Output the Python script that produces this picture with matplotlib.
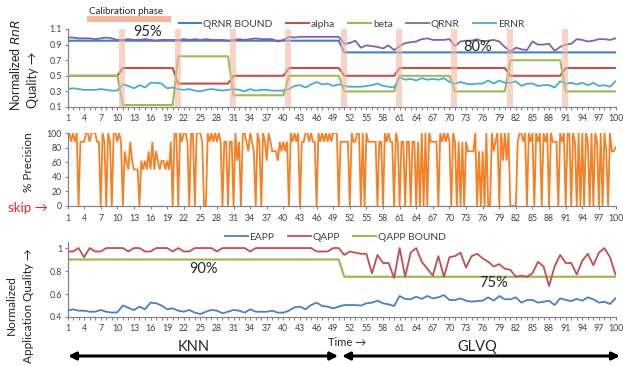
import numpy as np
import matplotlib
matplotlib.use("Agg")
import matplotlib.pyplot as plt
from matplotlib.patches import Rectangle

plt.rcParams['font.family'] = ['Lato', 'DejaVu Sans']

# ---------------- data ----------------
cats = list(range(1, 101))
xtick_labels = list(range(1, 101, 3))

qrnr_bound = [0.95] * 50 + [0.80] * 50
alpha = [0.5] * 10 + [0.6] * 10 + [0.4] * 10 + [0.5] * 10 + [0.6] * 10 + \
        [0.5] * 10 + [0.6] * 10 + [0.6] * 10 + [0.5] * 10 + [0.6] * 10
beta = [0.5] * 10 + [0.125] * 10 + [0.75] * 10 + [0.25] * 10 + [0.5] * 10 + \
       [0.3] * 10 + [0.5] * 10 + [0.3] * 10 + [0.7] * 10 + [0.3] * 10
qrnr = [0.99, 0.99, 0.98, 0.98, 0.98, 0.97, 0.98, 0.99, 0.98, 0.96,
        0.96, 0.97, 0.96, 0.96, 0.97, 0.96, 0.95, 0.96, 0.96, 0.96,
        0.96, 0.97, 0.96, 0.97, 0.96, 0.97, 0.96, 0.96, 0.96, 0.95,
        0.96, 0.97, 0.96, 0.97, 0.98, 0.97, 0.97, 0.97, 0.94, 0.96,
        1.00, 0.99, 1.00, 1.00, 1.00, 1.00, 1.00, 1.00, 1.00, 1.00,
        0.91, 0.92, 0.95, 0.86, 0.89, 0.88, 0.87, 0.85, 0.89, 0.83,
        0.88, 0.92, 0.93, 0.94, 0.97, 0.98, 0.96, 0.96, 0.96, 0.97,
        0.88, 0.94, 0.95, 0.95, 0.97, 0.94, 0.95, 0.96, 0.94, 0.87,
        0.81, 0.86, 0.84, 0.83, 0.94, 0.90, 0.90, 0.91, 0.82, 0.87,
        0.90, 0.91, 0.97, 0.96, 0.94, 0.95, 0.97, 0.97, 0.96, 0.98]
ernr = [0.33, 0.34, 0.33, 0.32, 0.32, 0.32, 0.33, 0.32, 0.31, 0.31,
        0.39, 0.37, 0.34, 0.38, 0.35, 0.41, 0.41, 0.40, 0.34, 0.35,
        0.33, 0.32, 0.33, 0.31, 0.30, 0.32, 0.33, 0.32, 0.31, 0.32,
        0.33, 0.32, 0.30, 0.33, 0.31, 0.32, 0.32, 0.31, 0.31, 0.31,
        0.33, 0.37, 0.38, 0.35, 0.39, 0.42, 0.39, 0.40, 0.37, 0.39,
        0.37, 0.36, 0.36, 0.36, 0.37, 0.38, 0.40, 0.37, 0.36, 0.35,
        0.48, 0.45, 0.46, 0.44, 0.47, 0.45, 0.46, 0.45, 0.47, 0.42,
        0.40, 0.42, 0.40, 0.39, 0.40, 0.40, 0.44, 0.40, 0.44, 0.41,
        0.41, 0.43, 0.37, 0.40, 0.40, 0.37, 0.38, 0.38, 0.35, 0.43,
        0.40, 0.41, 0.39, 0.41, 0.38, 0.41, 0.37, 0.38, 0.36, 0.43]

# precision: three samples per time step
precision = [
    100, 100, 88, 100, 88, 100, 0, 88, 88, 88, 100, 100, 88, 100, 100, 100, 88, 88, 0, 100, 88, 0, 100, 88, 0, 100, 100, 88, 100, 88,
    0, 75, 60, 50, 88, 62, 50, 50, 50, 0, 62, 50, 62, 50, 75, 50, 88, 50, 75, 62, 50, 62, 62, 50, 62, 50, 88, 0, 100, 100,
    0, 100, 88, 100, 100, 88, 0, 100, 100, 0, 100, 100, 100, 88, 0, 0, 100, 88, 100, 88, 100, 88, 100, 88, 0, 88, 88, 0, 88, 88,
    0, 100, 62, 88, 0, 100, 100, 88, 75, 100, 88, 75, 0, 100, 88, 0, 100, 88, 62, 100, 88, 75, 75, 75, 62, 88, 75, 88, 75, 88,
    0, 100, 88, 100, 88, 100, 0, 88, 88, 100, 100, 88, 100, 88, 88, 0, 100, 88, 100, 88, 100, 88, 100, 88, 100, 100, 100, 0, 88, 88,
    88, 88, 88, 0, 100, 88, 88, 100, 100, 0, 100, 0, 100, 88, 88, 88, 88, 88, 0, 88, 88, 0, 100, 88, 100, 88, 88, 0, 100, 88,
    0, 88, 88, 0, 88, 88, 0, 88, 88, 0, 88, 0, 100, 0, 100, 0, 100, 88, 88, 88, 88, 0, 100, 88, 100, 88, 100, 88, 0, 100,
    88, 0, 88, 0, 88, 0, 88, 75, 75, 75, 75, 100, 0, 75, 0, 75, 0, 100, 0, 0, 100, 75, 88, 100, 0, 100, 62, 100, 62, 100,
    0, 0, 0, 0, 88, 100, 100, 88, 100, 0, 100, 88, 100, 0, 100, 88, 100, 0, 100, 88, 100, 0, 100, 88, 88, 88, 0, 100, 88, 100,
    0, 100, 100, 0, 100, 88, 0, 100, 0, 100, 0, 100, 88, 0, 100, 0, 100, 88, 0, 100, 0, 100, 75, 0, 100, 75, 75,
    80]

eapp = [0.455, 0.467, 0.455, 0.455, 0.446, 0.446, 0.461, 0.446, 0.438, 0.441,
        0.500, 0.480, 0.460, 0.490, 0.467, 0.525, 0.520, 0.500, 0.467, 0.475,
        0.455, 0.446, 0.461, 0.438, 0.426, 0.446, 0.461, 0.455, 0.432, 0.446,
        0.461, 0.455, 0.438, 0.467, 0.446, 0.446, 0.446, 0.455, 0.438, 0.438,
        0.455, 0.484, 0.490, 0.467, 0.504, 0.525, 0.496, 0.490, 0.475, 0.490,
        0.504, 0.504, 0.504, 0.499, 0.519, 0.525, 0.542, 0.519, 0.510, 0.496,
        0.583, 0.557, 0.554, 0.577, 0.557, 0.583, 0.562, 0.571, 0.591, 0.548,
        0.548, 0.562, 0.542, 0.533, 0.539, 0.542, 0.571, 0.542, 0.583, 0.554,
        0.554, 0.571, 0.525, 0.548, 0.548, 0.525, 0.533, 0.542, 0.504, 0.562,
        0.548, 0.539, 0.557, 0.542, 0.571, 0.554, 0.525, 0.533, 0.513, 0.562]
qapp = [0.97, 0.97, 1.00, 0.92, 1.00, 0.97, 0.97, 1.00, 1.00, 1.00,
        1.00, 0.97, 1.00, 1.00, 0.97, 0.97, 1.00, 1.00, 1.00, 0.97,
        1.00, 0.97, 0.97, 1.00, 1.00, 1.00, 1.00, 0.97, 1.00, 1.00,
        1.00, 1.00, 1.00, 0.97, 1.00, 1.00, 1.00, 1.00, 1.00, 1.00,
        1.00, 1.00, 1.00, 1.00, 1.00, 0.97, 0.97, 0.97, 1.00, 1.00,
        0.94, 0.97, 0.96, 0.95, 0.95, 0.78, 0.94, 0.87, 0.87, 0.74,
        1.00, 0.75, 0.96, 1.00, 0.88, 0.82, 0.76, 0.93, 0.75, 0.92,
        0.93, 0.96, 0.83, 0.93, 0.95, 0.91, 0.88, 0.84, 0.86, 0.82,
        0.81, 0.75, 0.76, 0.75, 0.78, 0.88, 0.84, 0.67, 0.84, 0.94,
        0.87, 0.87, 0.77, 0.89, 0.95, 0.85, 0.96, 1.00, 0.92, 0.77]
qapp_bound = [0.90] * 50 + [0.75] * 50

calib_steps = [10, 20, 30, 40, 50, 60, 70, 80, 90]

# ---------------- style ----------------
C_BOUND = '#3F7FCF'
C_ALPHA = '#C0504D'
C_BETA = '#9BBB59'
C_QRNR = '#8064A2'
C_ERNR = '#4BACC6'
C_EAPP = '#4A7EC8'
C_ORANGE = '#F58025'
C_BAR = '#F4B8A0'
AX_COL = '#868686'
TXT = '#404040'
TICK_FS = 6.3

W, H = 623, 366
fig = plt.figure(figsize=(W / 100, H / 100), dpi=100)


def fx(px):
    return px / W


def fy(py):
    return 1 - py / H


left = fx(67.5)
width = fx(615.5) - fx(67.5)


def style_axes(ax, minor=True):
    for s in ['top', 'right']:
        ax.spines[s].set_visible(False)
    for s in ['left', 'bottom']:
        ax.spines[s].set_color(AX_COL)
        ax.spines[s].set_linewidth(0.9)
    ax.set_xlim(1, 100)
    ax.set_xticks(xtick_labels)
    ax.set_xticklabels([str(v) for v in xtick_labels])
    if minor:
        ax.set_xticks(cats, minor=True)
    ax.tick_params(axis='both', which='both', colors=AX_COL, labelcolor=TXT,
                   labelsize=TICK_FS, length=2.5, width=0.8, direction='out')
    ax.tick_params(axis='x', pad=2.5)
    ax.tick_params(axis='y', pad=1.5)


# ---------------- top panel ----------------
ax1 = fig.add_axes([left, fy(107), width, fy(29) - fy(107)])
ax1.plot(cats, qrnr_bound, color=C_BOUND, lw=1.5, label='QRNR BOUND', zorder=3)
ax1.plot(cats, alpha, color=C_ALPHA, lw=1.5, label='alpha', zorder=3)
ax1.plot(cats, beta, color=C_BETA, lw=1.5, label='beta', zorder=3)
ax1.plot(cats, qrnr, color=C_QRNR, lw=1.3, label='QRNR', zorder=3)
ax1.plot(cats, ernr, color=C_ERNR, lw=1.3, label='ERNR', zorder=3)
for c in calib_steps:
    ax1.add_patch(Rectangle((c + 0.35, 0.1), 1.1, 1.0, facecolor=C_BAR,
                            edgecolor='none', alpha=0.6, zorder=5))
ax1.set_ylim(0.1, 1.1)
ax1.set_yticks([0.1, 0.3, 0.5, 0.7, 0.9, 1.1])
ax1.set_yticklabels(['0.1', '0.3', '0.5', '0.7', '0.9', '1.1'])
style_axes(ax1)
ax1.text(15.5, 1.06, '95%', fontsize=10.5, color='#262626', ha='center', va='center', zorder=6)
ax1.text(75, 0.87, '80%', fontsize=10.5, color='#262626', ha='center', va='center', zorder=6)
# calibration phase marker
ax1.add_patch(Rectangle((4.5, 1.19), 15.2, 0.075, facecolor=C_BAR, edgecolor='none',
                        clip_on=False, zorder=2))
ax1.text(11.6, 1.33, 'Calibration phase', fontsize=7, color='#262626',
         ha='center', va='center', clip_on=False)
fig.legend(handles=ax1.get_lines(), loc='center', ncol=5,
           bbox_to_anchor=(fx(351.5), fy(24)), frameon=False,
           fontsize=7.4, handlelength=2.2, handletextpad=0.2,
           columnspacing=1.3, labelcolor=TXT)

fig.text(fx(15), fy(111), 'Normalized $\\it{RnR}$', rotation=90, fontsize=9,
         ha='center', va='bottom', color='#262626')
fig.text(fx(33), fy(108), 'Quality \u2192', rotation=90, fontsize=9,
         ha='center', va='bottom', color='#262626')

# ---------------- middle panel ----------------
ax2 = fig.add_axes([left, fy(206), width, fy(133) - fy(206)])
px = 1 + np.arange(len(precision)) / 3.0
ax2.plot(px, precision, color=C_ORANGE, lw=1.3, solid_joinstyle='miter')
ax2.set_ylim(0, 100)
ax2.set_yticks([0, 20, 40, 60, 80, 100])
style_axes(ax2, minor=False)
ax2.tick_params(axis='x', pad=3.5)
fig.text(fx(28), fy(162), '% Precision', rotation=90, fontsize=8.5,
         ha='center', va='center', color='#262626')
fig.text(fx(28), fy(208), 'skip \u2192', fontsize=9.5, color='#E8202A',
         ha='center', va='center')

# ---------------- bottom panel ----------------
ax3 = fig.add_axes([left, fy(317), width, fy(242.3) - fy(317)])
ax3.plot(cats, eapp, color=C_EAPP, lw=1.3, label='EAPP', zorder=3)
ax3.plot(cats, qapp, color=C_ALPHA, lw=1.3, label='QAPP', zorder=3)
ax3.plot(cats, qapp_bound, color=C_BETA, lw=1.6, label='QAPP BOUND', zorder=2)
ax3.set_ylim(0.4, 1.05)
ax3.set_yticks([0.4, 0.6, 0.8, 1.0])
ax3.set_yticklabels(['0.4', '0.6', '0.8', '1'])
style_axes(ax3)
ax3.text(25.5, 0.817, '90%', fontsize=10.5, color='#262626', ha='center', va='center')
ax3.text(77.9, 0.696, '75%', fontsize=10.5, color='#262626', ha='center', va='center')
fig.legend(handles=ax3.get_lines(), loc='center', ncol=3,
           bbox_to_anchor=(fx(335.5), fy(237)), frameon=False,
           fontsize=7.4, handlelength=2.2, handletextpad=0.2,
           columnspacing=1.3, labelcolor=TXT)

fig.text(fx(11), fy(305), 'Normalized', rotation=90, fontsize=8.5,
         ha='center', va='center', color='#262626')
fig.text(fx(28), fy(306), 'Application Quality \u2192', rotation=90, fontsize=8.5,
         ha='center', va='center', color='#262626')

# phase arrows
arrow_kw = dict(arrowstyle='<|-|>', color='black', lw=2.2, mutation_scale=11,
                shrinkA=0, shrinkB=0)
ax3.annotate('', xy=(1.1, fy(356)), xytext=(49.9, fy(356)),
             xycoords=('data', 'figure fraction'), textcoords=('data', 'figure fraction'),
             arrowprops=arrow_kw, annotation_clip=False)
ax3.annotate('', xy=(50.6, fy(356)), xytext=(100.8, fy(356)),
             xycoords=('data', 'figure fraction'), textcoords=('data', 'figure fraction'),
             arrowprops=arrow_kw, annotation_clip=False)
fig.text(fx(194), fy(347), 'KNN', fontsize=10.5, ha='center', va='center', color='#262626')
fig.text(fx(477.5), fy(347), 'GLVQ', fontsize=10.5, ha='center', va='center', color='#262626')
fig.text(fx(347.5), fy(343), 'Time \u2192', fontsize=8, ha='center', va='center', color='#262626')

fig.savefig('out.png', dpi=100)
